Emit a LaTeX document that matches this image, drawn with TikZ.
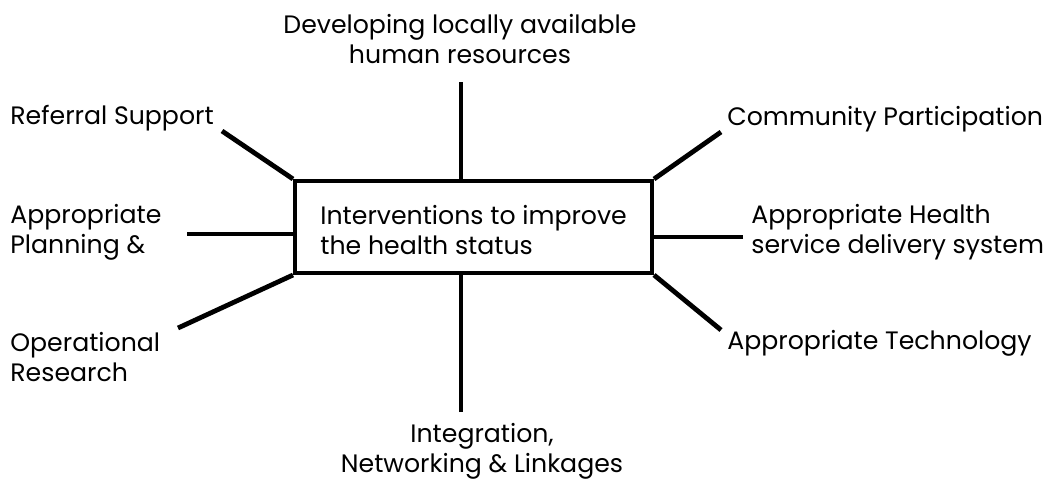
\documentclass[tikz,border=0pt]{standalone}
\usepackage{fontspec}
\setmainfont{Poppins}
\usetikzlibrary{positioning}
\tikzset{
  every node/.style={font=\fontsize{12.6}{15}\selectfont, text=black},
  hub/.style={
    draw=black,
    line width=2pt,
    minimum width=178.5pt,
    minimum height=46pt,
    inner sep=0pt
  },
  tag/.style={
    inner sep=0pt,
    align=left
  },
  spoke/.style={
    line width=2.4pt,
    draw=black
  }
}

\begin{document}
\begin{tikzpicture}[x=0.5pt, y=-0.5pt]
  \useasboundingbox (0,0) rectangle (1052,482);

  % central box
  \node[hub] (hub) at (473.5,227) {};
  \node[tag, anchor=west] (goal) at (320,230) {Interventions to improve\\the health status};

  % surrounding factors
  \node[tag, align=center] (hr) at (460,39) {Developing locally available\\human resources};
  \node[tag, align=center] (link) at (482,451) {Integration,\\Networking \& Linkages};
  \node[tag, anchor=west] (ref) at (10,118) {Referral Support};
  \node[tag, anchor=west] (comm) at (727,119) {Community Participation};
  \node[tag, anchor=west] (plan) at (10,232) {Appropriate\\Planning \&};
  \node[tag, anchor=west] (serv) at (751,232) {Appropriate Health\\service delivery system};
  \node[tag, anchor=west] (opr) at (10,357) {Operational\\Research};
  \node[tag, anchor=west] (tech) at (727,343) {Appropriate Technology};

  % free ends of the spokes
  \coordinate (hr-end) at (461,82);
  \coordinate (link-end) at (461,412);
  \coordinate (ref-end) at (222,131);
  \coordinate (comm-end) at (721,132);
  \coordinate (plan-end) at (187,234);
  \coordinate (serv-end) at (743,237);
  \coordinate (opr-end) at (178,328);
  \coordinate (tech-end) at (721,330);

  \draw[spoke] (hr-end) -- (hr-end |- hub.north);
  \draw[spoke] (link-end) -- (link-end |- hub.south);
  \draw[spoke] (ref-end) -- (hub.north west);
  \draw[spoke] (comm-end) -- (hub.north east);
  \draw[spoke] (plan-end) -- (plan-end -| hub.west);
  \draw[spoke] (serv-end) -- (serv-end -| hub.east);
  \draw[spoke] (opr-end) -- (hub.south west);
  \draw[spoke] (tech-end) -- (hub.south east);
\end{tikzpicture}
\end{document}
